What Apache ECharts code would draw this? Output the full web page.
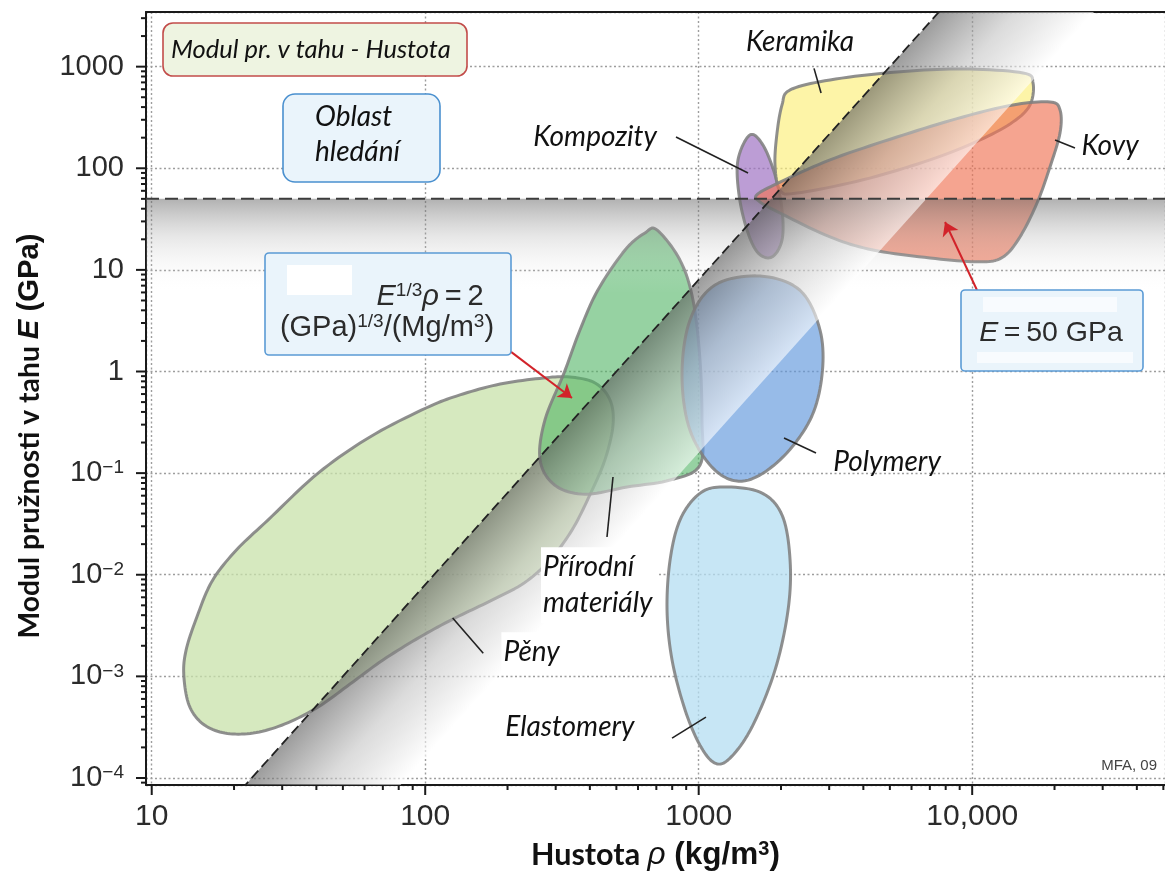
<!DOCTYPE html>
<html>
<head>
<meta charset="utf-8">
<script src="https://cdn.jsdelivr.net/npm/echarts@6/dist/echarts.min.js"></script>
<style>
  html, body { margin: 0; padding: 0; background: #fff; }
  #chart { width: 1165px; height: 882px; }
</style>
</head>
<body>
<div id="chart"></div>
<script>
// ---- Axis extents: density rho (kg/m3) and Young's modulus E (GPa) ----
const RHO_RANGE = [9.53, 50700];
const E_RANGE = [8.53e-5, 3450];

// ---- Material-family envelopes: boundary points [rho kg/m3, E GPa] ----
const foamPts = [[23.5,2.77e-4],[30.7,3.4e-4],[40.6,5.0e-4],[53.1,8.4e-4],[70.1,1.45e-3],[95.7,2.44e-3],[128.5,3.75e-3],[172.5,5.5e-3],[230,8.3e-3],[286,0.014],[344,0.0275],[400,0.061],[454,0.135],[486,0.297],[474,0.524],[418,0.771],[338,0.883],[270,0.863],[188,0.753],[134,0.588],[100.7,0.4375],[62.8,0.227],[40.6,0.100],[26.6,0.0345],[20.4,0.0175],[16.6,8.6e-3],[14.5,3.6e-3],[13.35,1.8e-3],[13.1,1.03e-3],[13.7,5.2e-4],[15.4,3.4e-4],[18.5,2.77e-4]];
const naturalPts = [[704,24.7],[854,12.5],[953,5.06],[1011,1.30],[1028,0.333],[1011,0.120],[786,0.0855],[547,0.073],[384,0.062],[298,0.076],[263,0.135],[274,0.333],[322,0.97],[368,2.56],[428,6.34],[538,15.7],[636,23.1]];
const polymerPts = [[1676,8.7],[2346,6.3],[2777,2.56],[2824,0.92],[2553,0.333],[1983,0.135],[1477,0.084],[1147,0.107],[929,0.265],[869,0.92],[929,3.2],[1147,7.1]];
const elastomerPts = [[1196,0.073],[1676,0.065],[2017,0.0387],[2158,0.014],[2122,4.5e-3],[1901,1.15e-3],[1566,3.17e-4],[1302,1.57e-4],[1147,1.4e-4],[1011,2.1e-4],[891,4.7e-4],[799,1.45e-3],[766,4.5e-3],[786,0.014],[854,0.0345],[994,0.061]];
const compositePts = [[1540,213],[1718,169],[1901,86],[2017,39],[2017,19.7],[1854,13.4],[1648,14.7],[1502,24.7],[1404,55],[1392,121]];
const ceramicPts = [[2158,590],[3022,740],[5309,887],[9254,949],[15340,867],[16690,691],[16270,420],[14100,286],[10680,190],[7010,121],[3988,77],[2288,57],[1983,61],[1901,108],[1934,223],[2017,420]];
const metalPts = [[1634,55],[1983,73],[3022,121],[5309,203],[9254,320],[14100,420],[19250,450],[20950,375],[20950,223],[19250,103],[17260,45.5],[14950,21.1],[12960,13.4],[10680,12.0],[7010,13.1],[4338,15.7],[3022,21.1],[1983,36.3],[1676,46.6]];

// ---- Selection guides ----
const E_LIMIT = 50;              // GPa, horizontal limit
const INDEX_C = 2;               // E^(1/3)/rho = 2 (GPa)^(1/3)/(Mg/m3)
const GUIDE_RHO = [18, 9000];    // span of the guide line (kg/m3)
const guideE = rho => Math.pow(INDEX_C * rho / 1000, 3);

// ---- Family labels and leader lines ----
const labelText = ['Keramika', 'Kompozity', 'Kovy', 'Polymery', 'Přírodní\nmateriály', 'Pěny', 'Elastomery'];
const labelPos = [[2346,1750],[418,203],[31900,166],[4881,0.129],[265,7.9e-3],[248,1.73e-3],[338,3.17e-4]];
const leaderLines = [
  [[2640,962],[2802,551]],
  [[826,203],[1515,90]],
  [[20090,190],[23760,158]],
  [[2051,0.222],[2685,0.158]],
  [[486,0.0916],[462,0.0235]],
  [[126,3.75e-3],[163,1.69e-3]],
  [[799,2.47e-4],[1063,3.97e-4]]
];
const arrowLines = [
  [[206,1.56],[344,0.548]],
  [[10410,6.34],[7957,29.6]]
];

// ---- tick values on the log axes (decades get long ticks) ----
function logTicks(range) {
  const out = [];
  for (let n = -5; n <= 5; n++) {
    for (let k = 1; k <= 9; k++) {
      const v = k * Math.pow(10, n);
      if (v >= range[0] * 1.0001 && v <= range[1]) out.push(v);
    }
  }
  return out;
}
const isDecade = v => Math.abs(Math.log10(v) - Math.round(Math.log10(v))) < 1e-6;

// closed Catmull-Rom curve through the projected boundary points
function closedCurve(P, seg) {
  const n = P.length, out = [];
  for (let i = 0; i < n; i++) {
    const p0 = P[(i - 1 + n) % n], p1 = P[i], p2 = P[(i + 1) % n], p3 = P[(i + 2) % n];
    for (let s = 0; s < seg; s++) {
      const t = s / seg, t2 = t * t, t3 = t2 * t;
      const f = k => 0.5 * (2 * p1[k] + (-p0[k] + p2[k]) * t +
        (2 * p0[k] - 5 * p1[k] + 4 * p2[k] - p3[k]) * t2 +
        (-p0[k] + 3 * p1[k] - 3 * p2[k] + p3[k]) * t3);
      out.push([f(0), f(1)]);
    }
  }
  return out;
}

const OUTLINE = 'rgba(128,128,128,0.88)';
function envelope(name, pts, fill) {
  return {
    type: 'custom', name, coordinateSystem: 'cartesian2d', clip: true, silent: true, z: 2,
    data: pts,
    renderItem(params, api) {
      if (params.dataIndex !== 0) return null;
      const points = closedCurve(pts.map(p => api.coord(p)), 10);
      return {
        type: 'polygon',
        shape: { points },
        style: { fill, stroke: OUTLINE, lineWidth: 3, lineJoin: 'round' }
      };
    }
  };
}

const tickFont = 'Liberation Sans, Arial, sans-serif';
const labelFont = 'Lato, "Open Sans", sans-serif';

const series = [
  envelope('Pěny', foamPts, 'rgba(200,225,170,0.75)'),
  envelope('Přírodní materiály', naturalPts, 'rgba(80,180,100,0.6)'),
  envelope('Polymery', polymerPts, 'rgba(95,150,220,0.65)'),
  envelope('Elastomery', elastomerPts, 'rgba(180,222,242,0.75)'),
  envelope('Kompozity', compositePts, 'rgba(160,115,195,0.7)'),
  envelope('Keramika', ceramicPts, 'rgba(252,238,120,0.65)'),
  envelope('Kovy', metalPts, 'rgba(240,115,85,0.65)'),
  // shaded band below the modulus limit
  {
    type: 'custom', clip: true, silent: true, z: 3,
    data: [[RHO_RANGE[0], E_LIMIT]],
    renderItem(params, api) {
      const a = api.coord([RHO_RANGE[0], E_LIMIT]);
      const b = api.coord([RHO_RANGE[1], E_LIMIT]);
      const c = api.coord([RHO_RANGE[1], E_LIMIT / 8.5]);
      const d = api.coord([RHO_RANGE[0], E_LIMIT / 8.5]);
      const grad = new echarts.graphic.LinearGradient(0, a[1], 0, d[1], [
        { offset: 0, color: 'rgba(100,100,100,0.5)' },
        { offset: 0.4, color: 'rgba(160,160,160,0.25)' },
        { offset: 1, color: 'rgba(255,255,255,0)' }
      ], true);
      return { type: 'polygon', shape: { points: [a, b, c, d] }, style: { fill: grad } };
    }
  },
  // shaded band beside the performance-index guide line
  {
    type: 'custom', clip: true, silent: true, z: 4,
    data: [[GUIDE_RHO[0], guideE(GUIDE_RHO[0])]],
    renderItem(params, api) {
      const shift = 3.69;
      const r0 = GUIDE_RHO[0], r1 = GUIDE_RHO[1];
      const a = api.coord([r0, guideE(r0)]);
      const b = api.coord([r1, guideE(r1)]);
      const c = api.coord([r0 * shift, guideE(r0)]);
      const d = api.coord([r1 * shift, guideE(r1)]);
      let dx = b[0] - a[0], dy = b[1] - a[1];
      const len = Math.hypot(dx, dy); dx /= len; dy /= len;
      let nx = -dy, ny = dx;
      if (nx < 0) { nx = -nx; ny = -ny; }
      const dist = (c[0] - a[0]) * nx + (c[1] - a[1]) * ny;
      const grad = new echarts.graphic.LinearGradient(a[0], a[1], a[0] + nx * dist, a[1] + ny * dist, [
        { offset: 0, color: 'rgba(95,95,95,0.62)' },
        { offset: 0.5, color: 'rgba(190,190,190,0.55)' },
        { offset: 1, color: 'rgba(255,255,255,0.6)' }
      ], true);
      return { type: 'polygon', shape: { points: [a, b, d, c] }, style: { fill: grad } };
    }
  },
  // E = 50 GPa limit, with the red pointer arrows
  {
    type: 'line', silent: true, z: 5, symbol: 'none', animation: false,
    data: [[RHO_RANGE[0], E_LIMIT], [RHO_RANGE[1], E_LIMIT]],
    lineStyle: { color: '#3c3c3c', width: 2, type: [13, 6] },
    markLine: {
      silent: true, symbol: ['none', 'arrow'], symbolSize: 13, animation: false,
      label: { show: false },
      lineStyle: { color: '#d2232a', width: 2, type: 'solid' },
      data: arrowLines.map(([s, e]) => [{ coord: s }, { coord: e }])
    }
  },
  // guide line E^(1/3)/rho = 2, with the label leader lines
  {
    type: 'line', silent: true, z: 5, symbol: 'none', animation: false,
    data: GUIDE_RHO.map(r => [r, guideE(r)]),
    lineStyle: { color: '#222', width: 1.8, type: [10, 5] },
    markLine: {
      silent: true, symbol: ['none', 'none'], animation: false,
      label: { show: false },
      lineStyle: { color: '#222', width: 1.6, type: 'solid' },
      data: leaderLines.map(([s, e]) => [{ coord: s }, { coord: e }])
    }
  },
  // family labels
  {
    type: 'custom', silent: true, z: 7, clip: false,
    data: labelPos,
    renderItem(params, api) {
      const i = params.dataIndex;
      const p = api.coord(labelPos[i]);
      const multi = labelText[i].indexOf('\n') >= 0;
      const boxed = labelText[i] === 'Pěny' || multi;
      return {
        type: 'text', x: p[0], y: p[1],
        style: {
          text: labelText[i], font: 'italic 28px ' + labelFont, fill: '#111',
          align: multi ? 'left' : 'center', verticalAlign: 'middle', lineHeight: 36,
          backgroundColor: boxed ? '#fff' : null, padding: boxed ? [2, 5, 2, 2] : 0
        }
      };
    }
  },
  // ticks along the density axis
  {
    type: 'custom', silent: true, z: 8, clip: false,
    data: logTicks(RHO_RANGE).map(v => [v, E_RANGE[0]]),
    renderItem(params, api) {
      const v = api.value(0);
      const p = api.coord([v, E_RANGE[0]]);
      const len = isDecade(v) ? 10 : 5;
      return { type: 'line', shape: { x1: p[0], y1: p[1], x2: p[0], y2: p[1] + len }, style: { stroke: '#1a1a1a', lineWidth: 2 } };
    }
  },
  // ticks along the modulus axis
  {
    type: 'custom', silent: true, z: 8, clip: false,
    data: logTicks(E_RANGE).map(v => [RHO_RANGE[0], v]),
    renderItem(params, api) {
      const v = api.value(1);
      const p = api.coord([RHO_RANGE[0], v]);
      const len = isDecade(v) ? 10 : 5;
      return { type: 'line', shape: { x1: p[0], y1: p[1], x2: p[0] - len, y2: p[1] }, style: { stroke: '#1a1a1a', lineWidth: 2 } };
    }
  }
];

const gridLine = { show: true, lineStyle: { color: '#9d9d9d', width: 1.4, type: [2, 2.5] } };
const spine = { show: true, lineStyle: { color: '#1a1a1a', width: 2 } };

const option = {
  animation: false,
  backgroundColor: '#fff',
  grid: { left: 146, right: 0, top: 12, bottom: 97, containLabel: false, outerBoundsMode: 'none' },
  xAxis: [
    {
      type: 'log', logBase: 10, min: RHO_RANGE[0], max: RHO_RANGE[1],
      axisLine: spine, axisTick: { show: false }, splitLine: gridLine,
      axisLabel: {
        margin: 17, color: '#2b2b2b', fontFamily: tickFont, fontSize: 30,
        showMinLabel: false, showMaxLabel: false,
        formatter: v => {
          if (!isDecade(v)) return '';
          const n = Math.round(Math.log10(v));
          const val = Math.pow(10, n);
          return val >= 10000 ? val.toLocaleString('en-US') : String(val);
        }
      },
      name: '{a|Hustota }{r|ρ}{b| (kg/m}{s|3}{b|)}',
      nameLocation: 'middle', nameGap: 54,
      nameTextStyle: {
        rich: {
          a: { fontFamily: labelFont, fontWeight: 'bold', fontSize: 30.5, color: '#111', lineHeight: 32, verticalAlign: 'bottom' },
          r: { fontFamily: tickFont, fontStyle: 'italic', fontSize: 31.5, color: '#111', lineHeight: 32, verticalAlign: 'bottom' },
          b: { fontFamily: tickFont, fontWeight: 'bold', fontSize: 31.5, color: '#111', lineHeight: 32, verticalAlign: 'bottom' },
          s: { fontFamily: tickFont, fontWeight: 'bold', fontSize: 20, color: '#111', lineHeight: 20, padding: [0, 0, 15, 0], verticalAlign: 'top' }
        }
      }
    },
    {
      type: 'log', logBase: 10, min: RHO_RANGE[0], max: RHO_RANGE[1], position: 'top',
      axisLine: spine, axisTick: { show: false }, axisLabel: { show: false }, splitLine: { show: false }
    }
  ],
  yAxis: {
    type: 'log', logBase: 10, min: E_RANGE[0], max: E_RANGE[1],
    axisLine: spine, axisTick: { show: false }, splitLine: gridLine,
    axisLabel: {
      margin: 22, color: '#2b2b2b',
      showMinLabel: false, showMaxLabel: false,
      formatter: v => {
        if (!isDecade(v)) return '';
        const n = Math.round(Math.log10(v));
        if (n >= 0) return '{m|' + Math.pow(10, n) + '}';
        return '{m|10}{s|\u2212' + (-n) + '}';
      },
      rich: {
        m: { fontFamily: tickFont, fontSize: 29, color: '#2b2b2b', lineHeight: 29, verticalAlign: 'bottom' },
        s: { fontFamily: tickFont, fontSize: 19, color: '#2b2b2b', lineHeight: 19, padding: [0, 0, 14, 0], verticalAlign: 'top' }
      }
    },
    name: '{a|Modul pružnosti v tahu }{e|E}{b| (GPa)}',
    nameLocation: 'middle', nameRotate: 90, nameGap: 102,
    nameTextStyle: {
      padding: [0, 75, 0, 0],
      rich: {
        a: { fontFamily: labelFont, fontWeight: 'bold', fontSize: 28.3, color: '#111' },
        e: { fontFamily: tickFont, fontWeight: 'bold', fontStyle: 'italic', fontSize: 29.3, color: '#111' },
        b: { fontFamily: tickFont, fontWeight: 'bold', fontSize: 29.3, color: '#111' }
      }
    }
  },
  series,
  graphic: [
    // chart title box
    { type: 'rect', z: 100, shape: { x: 163, y: 23, width: 304, height: 53, r: 10 },
      style: { fill: '#eef4e1', stroke: '#c24c4a', lineWidth: 1.6 } },
    { type: 'text', z: 101, x: 171, y: 50,
      style: { text: 'Modul pr. v tahu - Hustota', font: 'italic 25.5px ' + labelFont, fill: '#111', verticalAlign: 'middle' } },
    // search region box
    { type: 'rect', z: 100, shape: { x: 283, y: 94, width: 157, height: 88, r: 12 },
      style: { fill: '#eaf4fb', stroke: '#4a90cf', lineWidth: 1.6 } },
    { type: 'text', z: 101, x: 315, y: 134.5,
      style: { text: 'Oblast\nhledání', font: 'italic 28px ' + labelFont, fill: '#111', verticalAlign: 'middle', lineHeight: 35 } },
    // performance-index box
    { type: 'rect', z: 100, shape: { x: 265, y: 253, width: 246, height: 102, r: 4 },
      style: { fill: '#eaf4fb', stroke: '#5b9bd5', lineWidth: 1.6 } },
    { type: 'rect', z: 101, shape: { x: 287, y: 265, width: 65, height: 30 }, style: { fill: '#fff' } },
    { type: 'text', z: 102, x: 430, y: 296,
      style: {
        text: '{i|E}{s|1/3}{i|ρ}{n|\u2009=\u20092}', align: 'center', verticalAlign: 'middle',
        rich: {
          i: { fontFamily: tickFont, fontStyle: 'italic', fontSize: 29, fill: '#2b2b2b', lineHeight: 30, verticalAlign: 'bottom' },
          n: { fontFamily: tickFont, fontSize: 29, fill: '#2b2b2b', lineHeight: 30, verticalAlign: 'bottom' },
          s: { fontFamily: tickFont, fontSize: 19, fill: '#2b2b2b', lineHeight: 19, padding: [0, 0, 14, 0], verticalAlign: 'top' }
        }
      } },
    { type: 'text', z: 102, x: 387, y: 327,
      style: {
        text: '{n|(GPa)}{s|1/3}{n|/(Mg/m}{s|3}{n|)}', align: 'center', verticalAlign: 'middle',
        rich: {
          n: { fontFamily: tickFont, fontSize: 29, fill: '#2b2b2b', lineHeight: 30, verticalAlign: 'bottom' },
          s: { fontFamily: tickFont, fontSize: 19, fill: '#2b2b2b', lineHeight: 19, padding: [0, 0, 14, 0], verticalAlign: 'top' }
        }
      } },
    // modulus-limit box
    { type: 'rect', z: 100, shape: { x: 961, y: 290, width: 182, height: 81, r: 4 },
      style: { fill: '#eaf4fb', stroke: '#5b9bd5', lineWidth: 1.6 } },
    { type: 'rect', z: 101, shape: { x: 983, y: 297, width: 134, height: 15 }, style: { fill: '#f8fbfe' } },
    { type: 'rect', z: 101, shape: { x: 977, y: 352, width: 156, height: 11 }, style: { fill: '#f8fbfe' } },
    { type: 'text', z: 102, x: 1051, y: 333,
      style: {
        text: '{i|E}{n|\u2009=\u200950 GPa}', align: 'center', verticalAlign: 'middle',
        rich: {
          i: { fontFamily: tickFont, fontStyle: 'italic', fontSize: 28.5, fill: '#2b2b2b' },
          n: { fontFamily: tickFont, fontSize: 28.5, fill: '#2b2b2b' }
        }
      } },
    // source note
    { type: 'text', z: 101, x: 1157, y: 766,
      style: { text: 'MFA, 09', font: '15px ' + tickFont, fill: '#444', align: 'right', verticalAlign: 'middle' } }
  ]
};

const chart = echarts.init(document.getElementById('chart'), null, { renderer: 'canvas' });
chart.setOption(option);
</script>
</body>
</html>
